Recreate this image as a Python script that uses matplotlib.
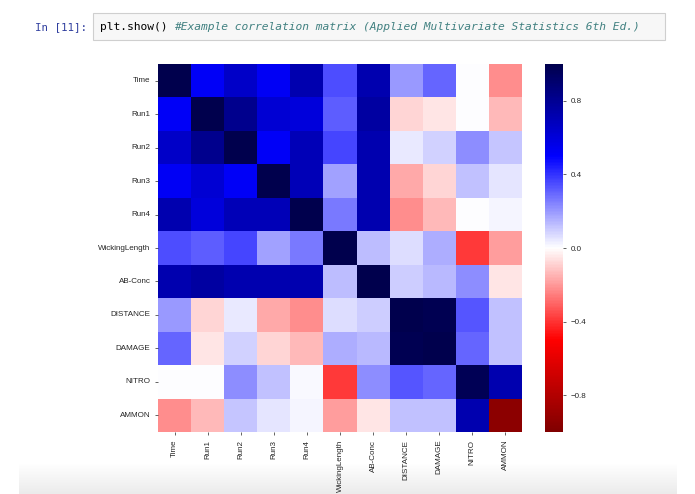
import matplotlib
matplotlib.use('Agg')
import matplotlib.pyplot as plt
import matplotlib.patches as mpatches
from matplotlib.colors import LinearSegmentedColormap
import numpy as np
import seaborn as sns

# variables of the example correlation matrix
labels = ['Time', 'Run1', 'Run2', 'Run3', 'Run4', 'WickingLength',
          'AB-Conc', 'DISTANCE', 'DAMAGE', 'NITRO', 'AMMON']

# values (seismic_r, -1..1)
time_row  = [1.00, 0.52, 0.65, 0.53, 0.72, 0.35, 0.72, 0.20, 0.30, 0.00, -0.22]
run1_row  = [0.52, 1.00, 0.82, 0.62, 0.60, 0.32, 0.76, -0.08, -0.05, 0.00, -0.14]
run2_row  = [0.65, 0.82, 1.00, 0.52, 0.70, 0.36, 0.72, 0.04, 0.09, 0.22, 0.11]
run3_row  = [0.53, 0.62, 0.52, 1.00, 0.70, 0.18, 0.72, -0.17, -0.08, 0.12, 0.05]
run4_row  = [0.72, 0.60, 0.70, 0.70, 1.00, 0.26, 0.72, -0.22, -0.14, 0.00, 0.02]
wick_row  = [0.35, 0.32, 0.36, 0.18, 0.26, 1.00, 0.13, 0.07, 0.16, -0.39, -0.19]
abconc_row = [0.72, 0.76, 0.72, 0.72, 0.72, 0.13, 1.00, 0.10, 0.14, 0.22, -0.05]
dist_row  = [0.20, -0.08, 0.04, -0.17, -0.22, 0.07, 0.10, 1.00, 0.98, 0.33, 0.12]
damage_row = [0.30, -0.05, 0.09, -0.08, -0.14, 0.16, 0.14, 0.98, 1.00, 0.30, 0.12]
nitro_row = [0.00, 0.00, 0.22, 0.12, 0.01, -0.39, 0.22, 0.33, 0.30, 0.97, 0.72]
ammon_row = [-0.22, -0.14, 0.11, 0.05, 0.02, -0.19, -0.05, 0.12, 0.12, 0.72, -0.95]

corr = np.array([time_row, run1_row, run2_row, run3_row, run4_row, wick_row,
                 abconc_row, dist_row, damage_row, nitro_row, ammon_row])

fig = plt.figure(figsize=(6.95, 4.94), dpi=100)

# notebook cell header
fig.text(35/695, 1 - 27/494, 'In [11]:', family='DejaVu Sans Mono', fontsize=7.8,
         color='#303F9F', va='center', ha='left')
box = mpatches.FancyBboxPatch((93/695, 1 - 40/494), (665-93)/695, 27/494,
                              boxstyle='square,pad=0', transform=fig.transFigure,
                              facecolor='#f7f7f7', edgecolor='#cfcfcf', linewidth=0.8)
fig.patches.append(box)
fig.text(100/695, 1 - 27/494, 'plt.show() ', family='DejaVu Sans Mono',
         fontsize=8.1, color='black', va='center', ha='left')
fig.text(100/695 + 11*6.75/695, 1 - 27/494,
         '#Example correlation matrix (Applied Multivariate Statistics 6th Ed.)',
         family='DejaVu Sans Mono', fontsize=8.1, style='italic', color='#408080',
         va='center', ha='left')

# faint shadow at the bottom of the output area (behind everything)
shade = fig.add_axes([19/695, 0, (677-19)/695, 30/494])
shade.set_zorder(-5)
shade_cmap = LinearSegmentedColormap.from_list('shade', ['#ffffff', '#ebebeb'])
grad = np.linspace(0, 1, 50).reshape(-1, 1)
shade.imshow(grad, aspect='auto', cmap=shade_cmap, origin='upper')
shade.axis('off')

ax = fig.add_axes([158/695, 1 - 432/494, (522-158)/695, (432-64)/494])
cax = fig.add_axes([545/695, 1 - 432/494, 18/695, (432-64)/494])

sns.heatmap(corr, ax=ax, cbar_ax=cax, cmap='seismic_r', vmin=-1, vmax=1,
            xticklabels=labels, yticklabels=labels)

ax.set_xticklabels(labels, rotation=90, family='Liberation Sans')
ax.set_yticklabels(labels, rotation=0, family='Liberation Sans')
ax.tick_params(axis='both', labelsize=5.8, colors='#262626', length=2, width=0.5)
cax.set_yticks([-0.8, -0.4, 0.0, 0.4, 0.8])
cax.set_yticklabels(['\u22120.8', '\u22120.4', '0.0', '0.4', '0.8'], family='Liberation Sans')
cax.tick_params(labelsize=5.8, colors='#262626', length=2, width=0.5)

fig.savefig('out.png', dpi=100)
